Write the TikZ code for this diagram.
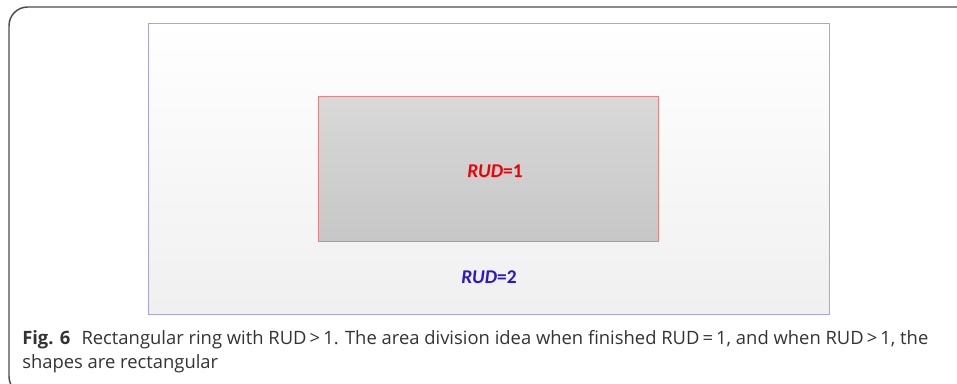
\documentclass[tikz,border=0pt]{standalone}
\usepackage{fontspec}
\setmainfont{Open Sans}
\newfontfamily\labelfont{Carlito}
\definecolor{ringedge}{RGB}{170,160,235}
\definecolor{coreedge}{RGB}{230,130,130}
\definecolor{ringtext}{RGB}{45,20,205}
\begin{document}
\begin{tikzpicture}[x=0.75pt,y=-0.75pt,
  framebox/.style={draw=black!70,line width=1.1pt,rounded corners=14pt},
  outerring/.style={draw=ringedge,line width=0.6pt,top color=white,bottom color=black!6},
  innerring/.style={draw=coreedge,line width=0.6pt,top color=black!15,bottom color=black!22},
  rudlabel/.style={font=\labelfont\fontsize{14.6}{16}\selectfont\bfseries},
  captiontext/.style={font=\fontsize{13.8}{18.2}\selectfont,text=black!80,anchor=north west,inner sep=0pt,align=left}]
\useasboundingbox (0,0) rectangle (957,383);
% caption frame, open to the right and below
\begin{scope}
\clip (0,0) rectangle (957,383);
\draw[framebox] (980,7) -- (9,7) -- (9,395) -- (60,395);
\end{scope}
% outer ring and inner region
\path[outerring] (148,23) rectangle (829,314);
\node[coordinate] (outer) at (488.5,168.5) {};
\path[innerring] (318,96) rectangle (658,241);
\node[rudlabel,text=red!95!black] (inner) at (495,171) {\itshape RUD\upshape=1};
\node[rudlabel,text=ringtext] (ring) at (489,277) {\itshape RUD\upshape=2};
% caption
\node[captiontext] (cap) at (22,330) {\textbf{Fig. 6}\hspace{0.6em}Rectangular ring with RUD\,>\,1. The area division idea when finished RUD\,=\,1, and when RUD\,>\,1, the\\shapes are rectangular};
\end{tikzpicture}
\end{document}
